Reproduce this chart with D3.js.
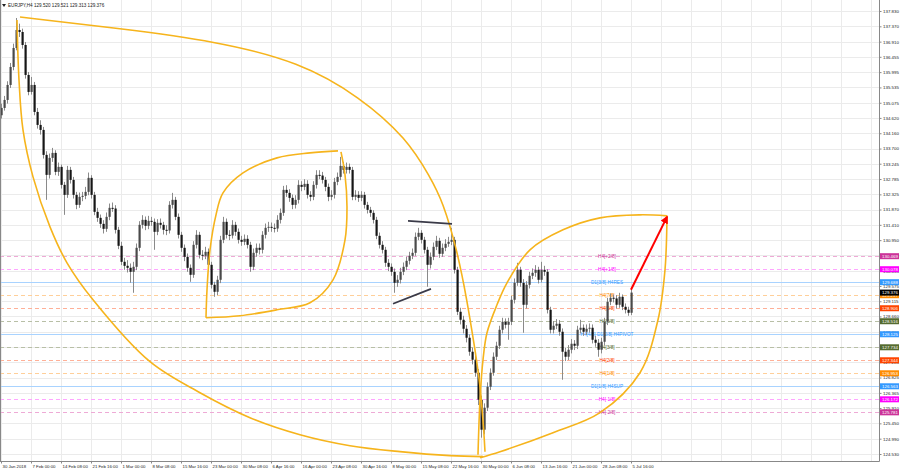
<!DOCTYPE html>
<html><head><meta charset="utf-8">
<script src="https://cdn.jsdelivr.net/npm/d3@7"></script>
<style>body{margin:0;background:#fff}svg{display:block}text{font-family:"Liberation Sans",Arial,sans-serif}</style>
</head><body><svg id="c" width="900" height="470"></svg>
<script>
// ---- data (EURJPY H4) ----
const title = "EURJPY,H4  129.520 129.521 129.313 129.376";
const opens = [134.70,134.92,135.16,135.61,136.15,136.72,137.26,137.20,136.81,135.91,135.40,135.61,134.80,134.41,134.26,133.51,132.91,133.42,133.57,133.00,
133.15,132.61,132.31,133.06,132.76,132.31,132.01,132.25,132.28,132.40,132.82,132.31,131.80,131.62,131.44,131.29,131.65,131.92,131.90,131.26,
130.78,130.30,130.18,130.12,130.00,130.15,130.72,131.41,131.56,131.38,131.53,131.50,131.20,131.47,131.41,131.26,131.24,132.01,132.16,131.65,
131.11,130.72,130.45,130.12,129.91,130.81,131.11,130.51,130.48,130.60,130.21,129.61,129.40,129.76,130.96,131.50,131.11,131.09,131.41,131.20,
130.96,130.90,130.99,130.81,130.15,130.57,130.72,130.66,131.11,131.32,131.35,131.32,131.30,131.56,131.77,132.46,132.37,132.22,132.01,132.16,
132.61,132.55,132.64,132.31,132.25,132.61,132.91,132.89,132.76,132.55,132.25,132.31,132.70,132.85,133.18,133.06,133.15,133.06,132.25,132.31,
132.22,132.31,132.01,131.86,131.77,131.56,131.08,130.81,130.66,130.27,130.15,130.00,129.67,129.76,130.00,130.15,130.33,130.48,130.57,131.05,
131.17,130.96,130.66,130.21,130.45,130.75,130.93,130.54,130.72,130.84,130.90,130.96,130.06,128.80,128.56,128.29,128.02,127.60,127.36,126.97,
126.16,125.26,125.92,126.55,126.97,127.45,127.78,128.26,128.50,128.41,128.50,129.16,129.67,130.06,129.67,129.01,129.61,129.88,129.97,130.06,
129.76,130.06,130.00,128.86,128.26,128.38,128.44,128.20,127.60,127.45,127.66,127.84,127.78,128.26,128.32,128.20,128.29,128.32,127.96,127.87,
127.66,127.90,128.50,129.10,129.22,129.20,129.01,129.25,128.95,128.86,128.77];
const highs = [135.05,135.28,135.72,136.27,136.85,137.62,137.45,137.30,136.90,136.00,135.85,135.70,134.92,134.55,134.35,133.62,133.55,133.72,133.65,133.28,
133.22,132.70,133.18,133.15,132.85,132.40,132.38,132.40,132.55,132.98,132.90,132.40,131.92,131.72,131.55,131.78,132.05,132.08,132.00,131.35,
130.90,130.42,130.35,130.25,130.30,130.85,131.52,131.70,131.66,131.68,131.65,131.60,131.58,131.60,131.50,131.40,132.12,132.37,132.25,131.75,
131.20,130.82,130.55,130.22,130.92,131.25,131.20,130.65,130.75,130.70,130.30,129.70,129.88,131.08,131.65,131.60,131.25,131.55,131.50,131.30,
131.08,131.12,131.10,130.90,130.70,130.85,130.85,131.22,131.45,131.50,131.48,131.45,131.70,131.90,132.58,132.60,132.48,132.32,132.30,132.75,
132.72,132.78,132.75,132.42,132.72,133.05,133.05,133.00,132.85,132.65,132.45,132.82,132.98,133.45,133.30,133.28,133.25,133.15,132.45,132.42,
132.42,132.40,132.10,131.95,131.85,131.65,131.18,130.92,130.75,130.38,130.25,130.10,129.90,130.12,130.28,130.45,130.60,130.70,131.18,131.32,
131.25,131.05,130.75,130.58,130.88,131.08,131.02,130.85,130.98,131.05,131.32,131.05,130.15,128.92,128.68,128.40,128.12,127.72,127.48,127.08,
126.28,126.05,126.68,127.10,127.58,127.90,128.38,128.62,128.60,128.62,129.28,129.80,130.27,130.15,129.78,129.72,130.00,130.10,130.20,130.15,
130.30,130.18,130.08,128.95,128.52,128.58,128.55,128.30,127.72,127.80,127.98,127.95,128.38,128.56,128.42,128.42,128.45,128.42,128.08,127.98,
128.02,128.62,129.22,129.35,129.32,129.30,129.37,129.32,129.05,128.95,129.521];
const lows = [134.60,134.84,135.05,135.52,136.05,136.65,137.05,136.70,135.80,135.30,135.32,134.70,134.30,134.12,133.40,132.16,132.80,133.30,132.90,132.88,
132.50,131.71,132.22,132.65,132.20,131.88,131.92,132.12,132.18,132.30,132.20,131.70,131.50,131.32,131.15,131.20,131.55,131.80,131.15,130.68,
130.20,130.06,129.98,129.67,129.37,130.05,130.62,131.30,131.25,131.28,131.38,130.66,131.10,131.30,131.12,131.10,131.15,131.90,131.55,131.00,
130.60,130.32,130.00,129.70,129.82,130.70,130.40,130.35,130.38,130.10,129.50,129.25,129.30,129.66,130.86,131.00,130.95,131.00,131.08,130.85,
130.78,130.80,130.70,130.00,130.05,130.45,130.52,130.55,131.00,131.20,131.20,131.18,131.20,131.45,131.68,132.25,132.10,131.88,131.90,132.05,
132.42,132.45,132.20,132.12,132.15,132.50,132.78,132.65,132.42,132.12,132.15,132.20,132.60,132.75,132.95,132.95,132.95,132.15,132.15,132.10,
132.12,131.90,131.75,131.65,131.45,130.98,130.70,130.55,130.15,130.02,129.88,129.37,129.55,129.65,129.90,130.05,130.22,130.38,130.48,130.95,
130.85,130.55,129.55,130.10,130.35,130.65,130.42,130.45,130.62,130.75,130.80,129.95,128.70,128.42,128.15,127.88,127.48,127.22,126.85,126.00,
125.02,125.12,125.82,126.45,126.88,127.35,127.68,128.15,128.30,127.96,128.40,129.05,129.58,129.55,128.17,128.90,129.50,129.78,129.85,129.65,
129.68,129.88,128.75,128.15,128.15,128.28,128.08,126.76,127.32,127.35,127.55,127.65,127.68,128.15,128.08,128.10,128.18,127.85,127.75,127.45,
127.55,127.80,128.40,129.00,129.08,128.90,128.92,128.85,128.75,128.68,128.70];
const closes = [134.92,135.16,135.61,136.15,136.72,137.26,137.20,136.81,135.91,135.40,135.61,134.80,134.41,134.26,133.51,132.91,133.42,133.57,133.00,133.15,
132.61,132.31,133.06,132.76,132.31,132.01,132.25,132.28,132.40,132.82,132.31,131.80,131.62,131.44,131.29,131.65,131.92,131.90,131.26,130.78,
130.30,130.18,130.12,130.00,130.15,130.72,131.41,131.56,131.38,131.53,131.50,131.20,131.47,131.41,131.26,131.24,132.01,132.16,131.65,131.11,
130.72,130.45,130.12,129.91,130.81,131.11,130.51,130.48,130.60,130.21,129.61,129.40,129.76,130.96,131.50,131.11,131.09,131.41,131.20,130.96,
130.90,130.99,130.81,130.15,130.57,130.72,130.66,131.11,131.32,131.35,131.32,131.30,131.56,131.77,132.46,132.37,132.22,132.01,132.16,132.61,
132.55,132.64,132.31,132.25,132.61,132.91,132.89,132.76,132.55,132.25,132.31,132.70,132.85,133.18,133.06,133.15,133.06,132.25,132.31,132.22,
132.31,132.01,131.86,131.77,131.56,131.08,130.81,130.66,130.27,130.15,130.00,129.67,129.76,130.00,130.15,130.33,130.48,130.57,131.05,131.17,
130.96,130.66,130.21,130.45,130.75,130.93,130.54,130.72,130.84,130.90,130.96,130.06,128.80,128.56,128.29,128.02,127.60,127.36,126.97,126.16,
125.26,125.92,126.55,126.97,127.45,127.78,128.26,128.50,128.41,128.50,129.16,129.67,130.06,129.67,129.01,129.61,129.88,129.97,130.06,129.76,
130.06,130.00,128.86,128.26,128.38,128.44,128.20,127.60,127.45,127.66,127.84,127.78,128.26,128.32,128.20,128.29,128.32,127.96,127.87,127.66,
127.90,128.50,129.10,129.22,129.20,129.01,129.25,128.95,128.86,128.77,129.376];

const timeLabels = ["30 Jan 2018","7 Feb 00:00","14 Feb 08:00","21 Feb 16:00","1 Mar 00:00","8 Mar 08:00","15 Mar 16:00","23 Mar 00:00",
"30 Mar 08:00","6 Apr 16:00","16 Apr 00:00","23 Apr 08:00","30 Apr 16:00","8 May 00:00","15 May 08:00","22 May 16:00","30 May 00:00",
"6 Jun 08:00","13 Jun 16:00","21 Jun 00:00","28 Jun 08:00","5 Jul 16:00"];
const timeLabelBars = [0,10,20,30,40,50,60,70,80,90,100,110,120,130,140,150,160,170,180,190,200,210];
const priceTicks = [137.830,137.370,136.910,136.455,135.995,135.535,135.075,134.620,134.160,133.700,133.245,132.785,132.325,131.870,
131.410,130.950,130.490,130.035,129.575,129.115,128.660,128.200,127.740,127.285,126.825,126.365,125.910,125.450,124.990,124.530];

const levelValues = [130.469,130.078,129.688,129.297,128.906,128.516,128.125,127.734,127.344,126.953,126.563,126.172,125.781];
const levelNames = ["H4[+2/8]","H4[+1/8]","D1[3/8] H4RES","H4[7/8]","H4[6/8]","H4[5/8]","H4[4/8] D1[2/8] H4PIVOT","H4[3/8]","H4[2/8]","H4[1/8]","D1[1/8] H4SUP","H4[-1/8]","H4[-2/8]"];
const levelColors = ["#cc3399","#ff00ff","#3399ff","#ff8c00","#ff4500","#556b2f","#3399ff","#556b2f","#ff4500","#ff8c00","#3399ff","#ff00ff","#cc3399"];
const levelLineColors = ["#eeaad6","#ffa6ff","#a9d3ff","#ffcf99","#ffb097","#b8bfa6","#a9d3ff","#b8bfa6","#ffb097","#ffcf99","#a9d3ff","#ffa6ff","#eeaad6"];
const levelSolid = [false,false,true,false,false,false,true,false,false,false,true,false,false];
const levelLabelBar = 202;
const lastPrice = 129.376;

// drawings: [bar, price]
const bigLeafUpper = [[6.33,137.65],[40,137.30],[71.33,136.93],[99.67,136.30],[119.67,135.25],[135.33,134.00],[143,132.85],[147.33,132.10],[152,130.66],[155.33,129.16],[158,127.66],[159.67,126.67],[161,125.17],[161.33,124.60]];
const bigLeafLower = [[5.33,137.56],[6,135.76],[7.33,134.26],[10.67,132.85],[16.33,131.35],[22,130.27],[30.67,129.16],[49.67,127.30],[66.33,126.37],[83,125.62],[99.67,125.11],[116.33,124.78],[133,124.60],[149.67,124.48],[160.67,124.45]];
const smallLeafUpper = [[68.33,128.62],[68.67,129.46],[69.67,130.66],[71.67,131.71],[74,132.37],[80.67,132.97],[92,133.42],[103,133.57],[112.33,133.63]];
const smallLeafLower = [[68.33,128.62],[79.67,128.68],[92,128.86],[103,129.07],[110.67,129.76],[114.67,130.96],[115.33,131.95],[114.67,132.91],[113.33,133.60]];
const rightLeafUpper = [[159,124.51],[159.67,126.16],[160.67,127.36],[162,128.17],[165.33,129.01],[168.67,129.67],[176.33,130.66],[187.33,131.26],[199.67,131.62],[213,131.71],[222,131.68]];
const rightLeafLower = [[159.67,124.42],[166.33,124.60],[184,125.17],[199.67,125.77],[213,126.97],[219,128.56],[221.33,130.06],[222,131.68]];
const trendLines = [[[135.67,131.53],[150.33,131.44]],[[130.67,129.04],[143.33,129.49]]];
const arrowLine = [[210,129.46],[222,131.65]];

// ---- drawing ----
const svg = d3.select("#c");
const W = 879.5, B = 461.5;
const x = d3.scaleLinear().domain([0,293]).range([1,880]);
const y = d3.scaleLinear().domain([124.53,137.83]).range([454,11]);

svg.append("rect").attr("width",900).attr("height",470).attr("fill","#fff");

// grid
const g = svg.append("g");
g.selectAll(".hg").data(priceTicks).join("line")
  .attr("x1",0).attr("x2",W).attr("y1",d=>Math.round(y(d))+0.5).attr("y2",d=>Math.round(y(d))+0.5)
  .attr("stroke","#ebebeb").attr("stroke-width",1);
g.selectAll(".vg").data(d3.range(0,293,10)).join("line")
  .attr("y1",0).attr("y2",B).attr("x1",d=>Math.round(x(d))+0.5).attr("x2",d=>Math.round(x(d))+0.5)
  .attr("stroke","#ebebeb").attr("stroke-width",1);

// levels
const lv = svg.append("g");
levelValues.forEach((v,i)=>{
  lv.append("line").attr("x1",0).attr("x2",W).attr("y1",Math.round(y(v))+0.5).attr("y2",Math.round(y(v))+0.5)
    .attr("stroke",levelLineColors[i]).attr("stroke-width",1)
    .attr("stroke-dasharray",levelSolid[i]?null:"4,3");
});

// candles
const cg = svg.append("g");
closes.forEach((c,i)=>{
  const o = opens[i], h = highs[i], l = lows[i];
  const cx = x(i);
  cg.append("line").attr("x1",cx+0.5).attr("x2",cx+0.5).attr("y1",y(h)).attr("y2",y(l))
    .attr("stroke","#8a8a8a").attr("stroke-width",1);
  const top = y(Math.max(o,c)), bot = y(Math.min(o,c));
  cg.append("rect").attr("x",cx-0.5).attr("width",2.2).attr("y",top).attr("height",Math.max(1,bot-top))
    .attr("fill", c>=o ? "#4a4a4a" : "#161616");
});

// level texts
levelValues.forEach((v,i)=>{
  lv.append("text").attr("x",x(levelLabelBar)).attr("y",y(v)+1.6).attr("text-anchor","middle")
    .attr("font-size","4.7px").attr("fill",levelColors[i]).text(levelNames[i]);
});

// drawings
const lineB = d3.line().x(d=>x(d[0])).y(d=>y(d[1])).curve(d3.curveBasis);
const lineC = d3.line().x(d=>x(d[0])).y(d=>y(d[1])).curve(d3.curveCatmullRom.alpha(0.5));
const dg = svg.append("g").attr("fill","none");
dg.append("path").attr("d",lineB(bigLeafUpper)).attr("stroke","#f6b41c").attr("stroke-width",1.6);
[bigLeafLower,smallLeafUpper,smallLeafLower,rightLeafUpper,rightLeafLower].forEach(p=>{
  dg.append("path").attr("d",lineC(p)).attr("stroke","#f6b41c").attr("stroke-width",1.6);
});
trendLines.forEach(p=>{
  dg.append("path").attr("d",d3.line().x(d=>x(d[0])).y(d=>y(d[1]))(p)).attr("stroke","#3a3a48").attr("stroke-width",1.8);
});
svg.append("defs").append("marker").attr("id","ah").attr("viewBox","0 0 10 10").attr("refX",8).attr("refY",5)
  .attr("markerWidth",4).attr("markerHeight",4).attr("orient","auto")
  .append("path").attr("d","M0,0 L10,5 L0,10 z").attr("fill","#ff0000");
dg.append("path").attr("d",d3.line().x(d=>x(d[0])).y(d=>y(d[1]))(arrowLine))
  .attr("stroke","#ff0000").attr("stroke-width",2).attr("marker-end","url(#ah)");

// frame
svg.append("line").attr("x1",0.5).attr("x2",0.5).attr("y1",0).attr("y2",B).attr("stroke","#888");
svg.append("line").attr("x1",W).attr("x2",W).attr("y1",0).attr("y2",B).attr("stroke","#888");
svg.append("line").attr("x1",0).attr("x2",W).attr("y1",B).attr("y2",B).attr("stroke","#888");

// right axis
const ra = svg.append("g").attr("transform",`translate(${W},0)`)
  .call(d3.axisRight(y).tickValues(priceTicks).tickFormat(d3.format(".3f")).tickSize(2).tickPadding(1.5));
ra.select(".domain").remove();
ra.selectAll("line").attr("stroke","#888");
ra.selectAll("text").attr("font-size","4.4px").attr("fill","#222").attr("font-family","Liberation Sans, Arial, sans-serif");

// bottom axis
const ba = svg.append("g").attr("transform",`translate(0,${B})`)
  .call(d3.axisBottom(x).tickValues(timeLabelBars).tickFormat((d,i)=>timeLabels[i]).tickSize(2).tickPadding(1));
ba.select(".domain").remove();
ba.selectAll("line").attr("stroke","#888");
ba.selectAll("text").attr("font-size","4.3px").attr("fill","#222").attr("text-anchor","start").attr("dx","1")
  .attr("font-family","Liberation Sans, Arial, sans-serif");

// price boxes
const pb = svg.append("g");
const boxes = levelValues.map((v,i)=>({v, col: levelColors[i]})).concat([{v:lastPrice,col:"#000"}]);
boxes.forEach(b=>{
  pb.append("rect").attr("x",W+0.5).attr("y",y(b.v)-3).attr("width",19).attr("height",6).attr("fill",b.col);
  pb.append("text").attr("x",W+2.5).attr("y",y(b.v)+1.6).attr("font-size","4.4px").attr("fill","#fff").text(d3.format(".3f")(b.v));
});

// title
svg.append("path").attr("d","M2,4 L6,4 L4,7 z").attr("fill","#222");
svg.append("text").attr("x",8).attr("y",7.3).attr("font-size","4.6px").attr("fill","#222").text(title);
</script></body></html>
